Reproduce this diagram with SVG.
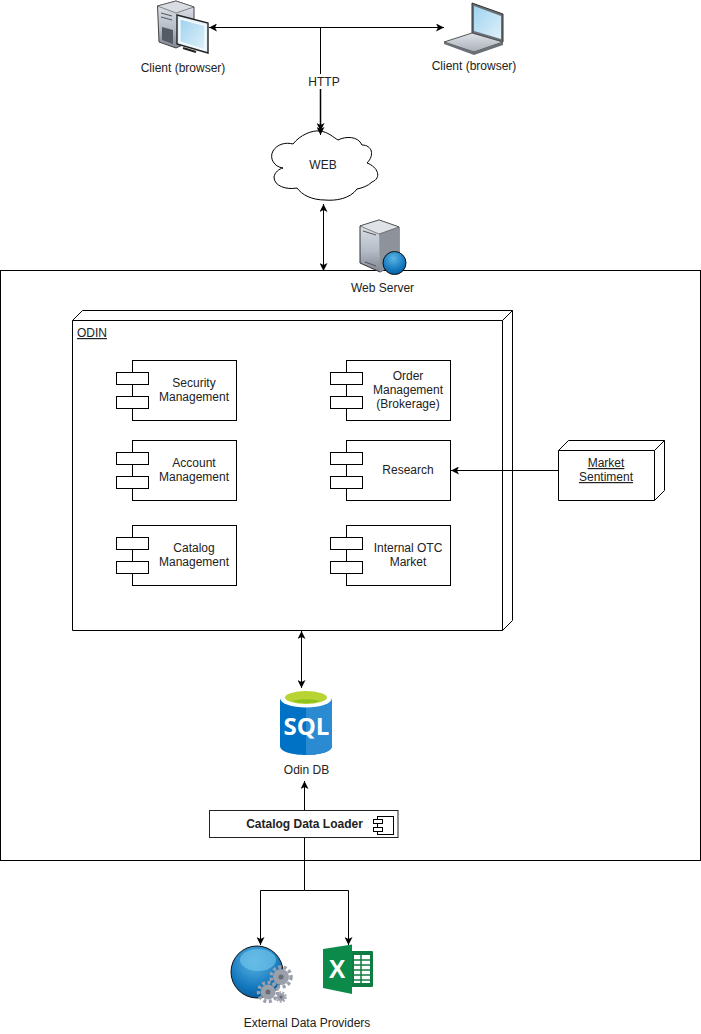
<svg xmlns="http://www.w3.org/2000/svg" width="701" height="1034" viewBox="0 0 701 1034">
<style>
text{font-family:"Liberation Sans",Arial,sans-serif;font-size:12px;fill:#222;text-anchor:middle}
.b{fill:#fff;stroke:#000;stroke-width:1}
.n{fill:none;stroke:#000;stroke-width:1}
.c{fill:none;stroke:#000;stroke-width:1;marker-end:url(#a)}
.d{fill:none;stroke:#000;stroke-width:1;marker-end:url(#a);marker-start:url(#a)}
.u{text-decoration:underline}
.gr{fill:#9a9fa9}
.gt{fill:none;stroke:#9a9fa9;stroke-width:3.5;stroke-dasharray:3 2.5}
.gh{fill:#666c76}
</style>
<defs>
<marker id="a" viewBox="0 0 8 8" refX="8" refY="4" markerWidth="8" markerHeight="8" markerUnits="userSpaceOnUse" orient="auto-start-reverse"><path d="M0,0L8,4L0,8L2,4z" fill="#000"/></marker>
<linearGradient id="tw" x1="0" y1="0" x2="0" y2="1"><stop offset="0" stop-color="#e2e6ec"/><stop offset=".6" stop-color="#b4bbc6"/><stop offset="1" stop-color="#7e8592"/></linearGradient>
<linearGradient id="sc" x1="0" y1="0" x2="1" y2="1"><stop offset="0" stop-color="#9fd3f0"/><stop offset="1" stop-color="#dff0f8"/></linearGradient>
<linearGradient id="lb" x1="0" y1="0" x2="0" y2="1"><stop offset="0" stop-color="#dfe3e8"/><stop offset="1" stop-color="#a9afb9"/></linearGradient>
<radialGradient id="gl" cx=".45" cy=".3" r=".8"><stop offset="0" stop-color="#5bb5e3"/><stop offset=".65" stop-color="#1276bd"/><stop offset="1" stop-color="#0a4f86"/></radialGradient>
</defs>
<g id="web-server-boundary"><rect class="b" x="0.500" y="270.500" width="700" height="590"/></g>
<g id="connectors">
<path class="d" d="M209,27.500H444"/>
<path class="n" d="M320.500,27.500V74"/>
<path class="d" d="M323.500,204V271"/>
<path class="d" d="M301.500,631V688"/>
<path class="c" d="M304.500,810V781"/>
<path class="n" d="M304.500,838V890.500"/>
<path class="c" d="M304.500,890.500H260.500V945"/>
<path class="c" d="M304.500,890.500H348.500V945"/>
</g>
<g id="client-desktop">
<path d="M157.500,6L176,1L194,7V40L176,48L159,42z" fill="url(#tw)" stroke="#444"/>
<path d="M176,1L194,7L176,13L157.500,6z" fill="#d9dde3" stroke="#444" stroke-width=".6"/>
<path d="M162,27L173,30V44L162,40z" fill="#555b63"/>
<path d="M161,13L172,16M161,17L172,20" stroke="#555" fill="none"/>
<path d="M177,15L208,23V53L177,44z" fill="#e4f1f8" stroke="#222" stroke-width="1.400"/>
<path d="M180,19L205,25.500V50L180,42z" fill="url(#sc)" stroke="#fff"/>
<path d="M183,48L196,52" stroke="#222" stroke-width="2"/>
<text x="183" y="72">Client (browser)</text>
</g>
<g id="client-laptop">
<path d="M472,3L503,14V42L472,33z" fill="#6a7078" stroke="#333"/>
<path d="M474,6L501,16V39L474,31z" fill="url(#sc)"/>
<path d="M444,42L472,33L503,42L474,52z" fill="url(#lb)" stroke="#555"/>
<path d="M444,42L474,52L503,42V45L474,55L444,44z" fill="#6a7078"/>
<text x="474" y="70">Client (browser)</text>
</g>
<g id="http-label"><text x="324" y="86">HTTP</text></g>
<g id="web">
<path class="b" d="M293,144C300,135 312,130 320,131C328,132 333,137 338,140C346,136 358,136 362,145C372,145 375,155 367,163C378,167 382,178 372,182C368,186 362,188 357,189C350,199 335,201 325,200C312,200 302,195 297,188C286,190 274,186 274,177C275,172 279,169 283,168C274,167 269,158 273,151C277,144 286,142 293,144z"/>
<text x="323" y="169">WEB</text>
</g>
<g id="http-arrow">
<path class="c" style="stroke-width:1.500" d="M320.500,89V131"/>
<path class="c" d="M320.500,89V135"/>
</g>
<g id="web-server">
<path d="M360,226L379,220L399,227V262L380,272L360,263z" fill="url(#tw)" stroke="#333"/>
<path d="M379,228L399,227V262L380,272z" fill="#8d929b"/>
<path d="M360,226L379,220L399,227L379,234z" fill="#dfe2e7" stroke="#444" stroke-width=".6"/>
<path d="M363,231L376,235M365,262L376,266" stroke="#555" fill="none"/>
<circle cx="394.500" cy="263" r="11.500" fill="url(#gl)" stroke="#111"/>
<text x="382.500" y="292">Web Server</text>
</g>
<g id="odin">
<path class="b" d="M72.500,320.500L82.500,310.500H512.500V620.500L502.500,630.500H72.500z"/>
<path class="n" d="M72.500,320.500H502.500V630.500M502.500,320.500L512.500,310.500"/>
<text class="u" x="77" y="337" style="text-anchor:start">ODIN</text>
</g>
<g id="security-management"><rect class="b" x="132.500" y="360.500" width="104" height="60"/><rect class="b" x="116.500" y="372.500" width="32" height="12"/><rect class="b" x="116.500" y="396.500" width="32" height="12"/><text x="194" y="387">Security</text><text x="194" y="401">Management</text></g>
<g id="account-management"><rect class="b" x="132.500" y="440.500" width="104" height="60"/><rect class="b" x="116.500" y="452.500" width="32" height="12"/><rect class="b" x="116.500" y="476.500" width="32" height="12"/><text x="194" y="467">Account</text><text x="194" y="481">Management</text></g>
<g id="catalog-management"><rect class="b" x="132.500" y="525.500" width="104" height="60"/><rect class="b" x="116.500" y="537.500" width="32" height="12"/><rect class="b" x="116.500" y="561.500" width="32" height="12"/><text x="194" y="552">Catalog</text><text x="194" y="566">Management</text></g>
<g id="order-management"><rect class="b" x="346.500" y="360.500" width="104" height="60"/><rect class="b" x="330.500" y="372.500" width="32" height="12"/><rect class="b" x="330.500" y="396.500" width="32" height="12"/><text x="408" y="380">Order</text><text x="408" y="394">Management</text><text x="408" y="408">(Brokerage)</text></g>
<g id="research"><rect class="b" x="346.500" y="440.500" width="104" height="60"/><rect class="b" x="330.500" y="452.500" width="32" height="12"/><rect class="b" x="330.500" y="476.500" width="32" height="12"/><text x="408" y="474">Research</text></g>
<g id="internal-otc-market"><rect class="b" x="346.500" y="525.500" width="104" height="60"/><rect class="b" x="330.500" y="537.500" width="32" height="12"/><rect class="b" x="330.500" y="561.500" width="32" height="12"/><text x="408" y="552">Internal OTC</text><text x="408" y="566">Market</text></g>
<path class="c" d="M558,470.500H451"/>
<g id="market-sentiment">
<path class="b" d="M558.500,450.500L568.500,440.500H664.500V490.500L654.500,500.500H558.500z"/>
<path class="n" d="M558.500,450.500H654.500V500.500M654.500,450.500L664.500,440.500"/>
<text class="u" x="606" y="467">Market</text><text class="u" x="606" y="481">Sentiment</text>
</g>
<g id="odin-db">
<path d="M280,698V746C280,758 332,758 332,746V698z" fill="#0072c6"/>
<path d="M306,704C320,704 332,702 332,698V746C332,752 318,755 306,755z" fill="#2a8bd2"/>
<ellipse cx="306" cy="698" rx="26" ry="9.500" fill="#fff"/>
<ellipse cx="306" cy="697.500" rx="21" ry="6.500" fill="#b8d432"/>
<path d="M292,701C299,698.500 313,698.500 320,701C313,704 299,704 292,701z" fill="#8fc31f"/>
<text x="306.500" y="735" style="font-family:'Open Sans',sans-serif;font-size:24px;font-weight:700;fill:#fff">SQL</text>
<text x="306.500" y="774">Odin DB</text>
</g>
<g id="catalog-data-loader">
<rect x="209.500" y="810.500" width="188.500" height="27" fill="#fff" stroke="#222"/>
<text x="304.500" y="828" style="font-weight:700">Catalog Data Loader</text>
<rect class="b" x="377.500" y="816.500" width="16" height="18"/>
<rect class="b" x="373.500" y="819.500" width="9" height="4"/>
<rect class="b" x="373.500" y="827.500" width="9" height="4"/>
</g>
<g id="external-globe">
<circle cx="257" cy="972" r="26" fill="url(#gl)" stroke="#111"/>
<ellipse cx="258" cy="960" rx="18" ry="11" fill="#6cc0e8" opacity=".7"/>
<circle class="gr" cx="281" cy="977" r="8"/>
<circle class="gt" cx="281" cy="977" r="10"/>
<circle class="gh" cx="281" cy="977" r="2.500"/>
<circle class="gr" cx="268" cy="992" r="7.500"/>
<circle class="gt" cx="268" cy="992" r="9.500"/>
<circle class="gh" cx="268" cy="992" r="2.500"/>
<circle class="gr" cx="281" cy="997" r="4"/>
<circle cx="281" cy="997" r="5" fill="none" stroke="#9a9fa9" stroke-width="1.500" stroke-dasharray="2 1.500"/>
<circle class="gh" cx="281" cy="997" r="1.500"/>
<text x="307" y="1027">External Data Providers</text>
</g>
<g id="external-excel">
<rect x="350" y="951" width="23" height="36" rx="1" fill="#107c41"/>
<path d="M354,955H370V983H354z" fill="#fff"/>
<path d="M354,960H370M354,965H370M354,970H370M354,975H370M354,980H370M361,955V983" stroke="#107c41" stroke-width="1.500" fill="none"/>
<path d="M323,949L352,944.500V994L323,988z" fill="#0b8a4a"/>
<text x="337" y="978" style="font-size:25px;font-weight:700;fill:#fff">X</text>
</g>
</svg>
